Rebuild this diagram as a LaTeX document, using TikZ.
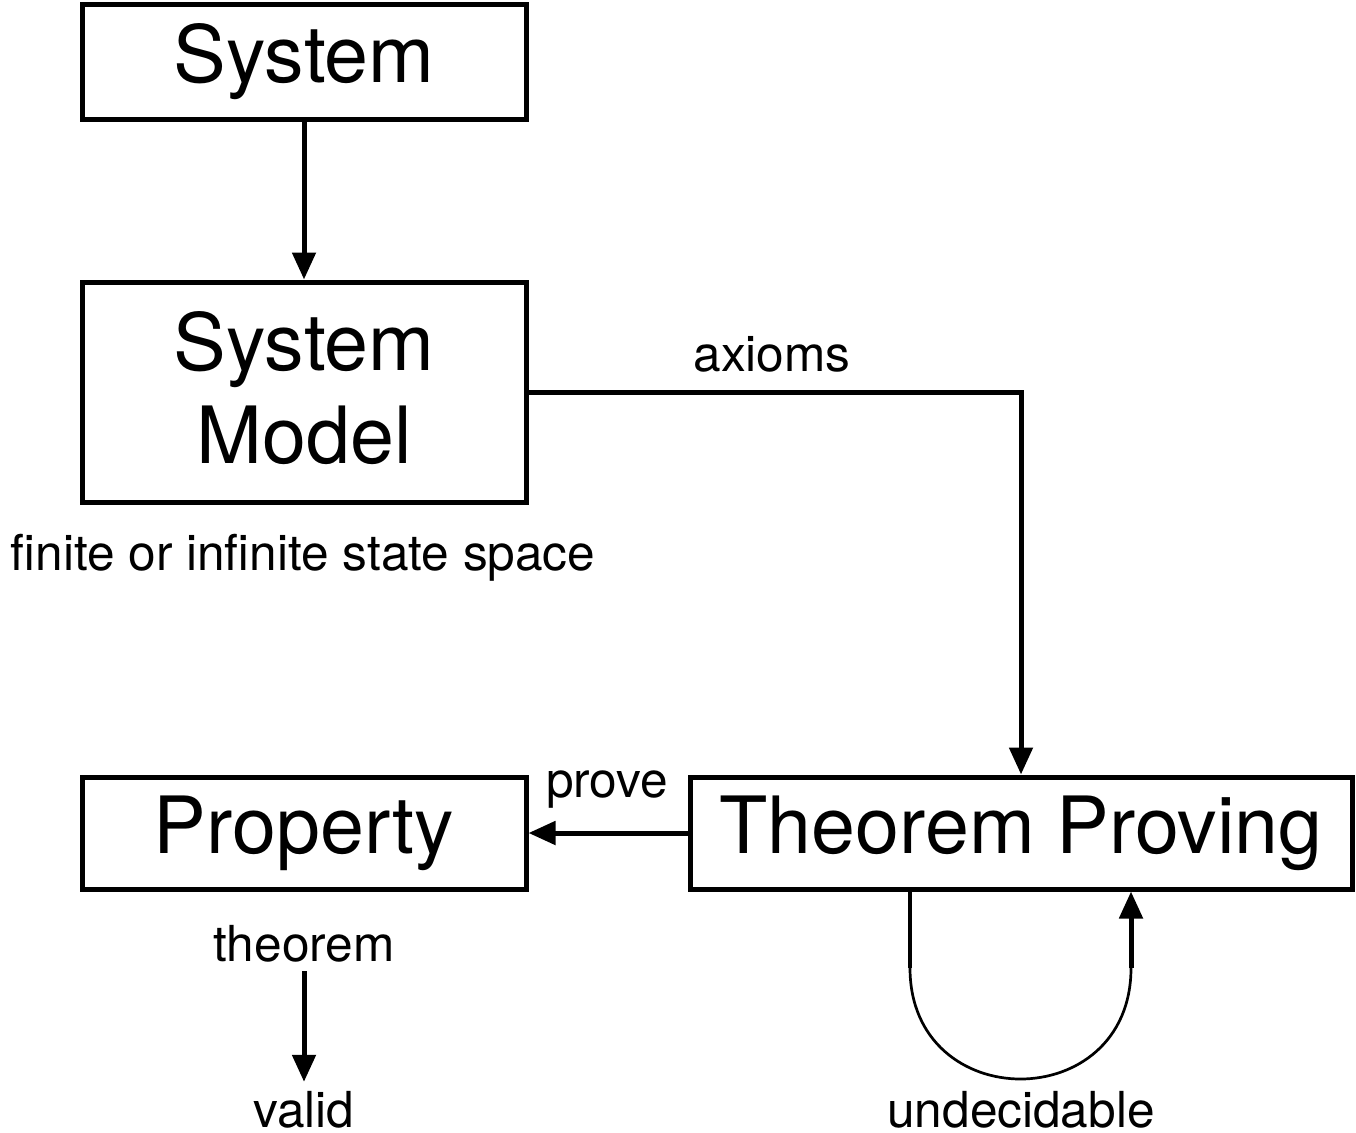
\documentclass[tikz,border=0pt]{standalone}
\usepackage{fontspec}
\setmainfont{TeX Gyre Heros}
\usetikzlibrary{arrows.meta,calc}
\newcommand{\boxfont}{\fontsize{79}{93}\selectfont}
\newcommand{\lblfont}{\fontsize{49.6}{58}\selectfont}

\begin{document}
\begin{tikzpicture}[x=1pt,y=-1pt,
  box/.style={draw,line width=5pt,inner sep=0pt,font=\boxfont,text height=57pt,text depth=17pt},
  lbl/.style={inner sep=0pt,font=\lblfont,text height=36pt,text depth=10pt},
  wire/.style={line width=5pt,-{Triangle[length=27pt,width=23pt]}}]
  \useasboundingbox (0,0) rectangle (1356,1132);
  % boxes
  \node[box,minimum width=444pt,minimum height=114pt] (sys) at (304,62) {System};
  \node[box,minimum width=444pt,minimum height=220pt,align=center,text height=150pt,text depth=8pt] (model) at (304,392) {System\\Model};
  \node[box,minimum width=444pt,minimum height=112pt] (prop) at (304,833) {Property};
  \node[box,minimum width=662pt,minimum height=112pt] (tp) at (1021,833) {Theorem Proving};
  % labels
  \node[lbl,anchor=base] (fin) at (303,570) {finite or infinite state space};
  \node[lbl,anchor=base] (ax) at (772,371) {axioms};
  \node[lbl,anchor=base] (pr) at (607,797) {prove};
  \node[lbl,anchor=base] (thm) at (304,961) {theorem};
  \node[lbl,anchor=base,text depth=0pt] (val) at (304,1127) {valid};
  \node[lbl,anchor=base,text depth=0pt] (und) at (1021,1127) {undecidable};
  % connectors
  \draw[wire] (sys) -- (model);
  \draw[wire] (model.east) -| (tp.north);
  \draw[wire] (tp.west) -- (prop.east);
  \draw[wire,shorten >=9pt] (thm) -- (val);
  % loop below theorem proving
  \coordinate (loopL) at (910,968);
  \coordinate (loopR) at (1131,968);
  \draw[line width=4.5pt] (loopL |- tp.south) -- (loopL);
  \draw[line width=2.7pt] (loopL) .. controls +(0,148) and +(0,148) .. (loopR);
  \draw[wire] (loopR) -- (loopR |- tp.south);
\end{tikzpicture}
\end{document}
